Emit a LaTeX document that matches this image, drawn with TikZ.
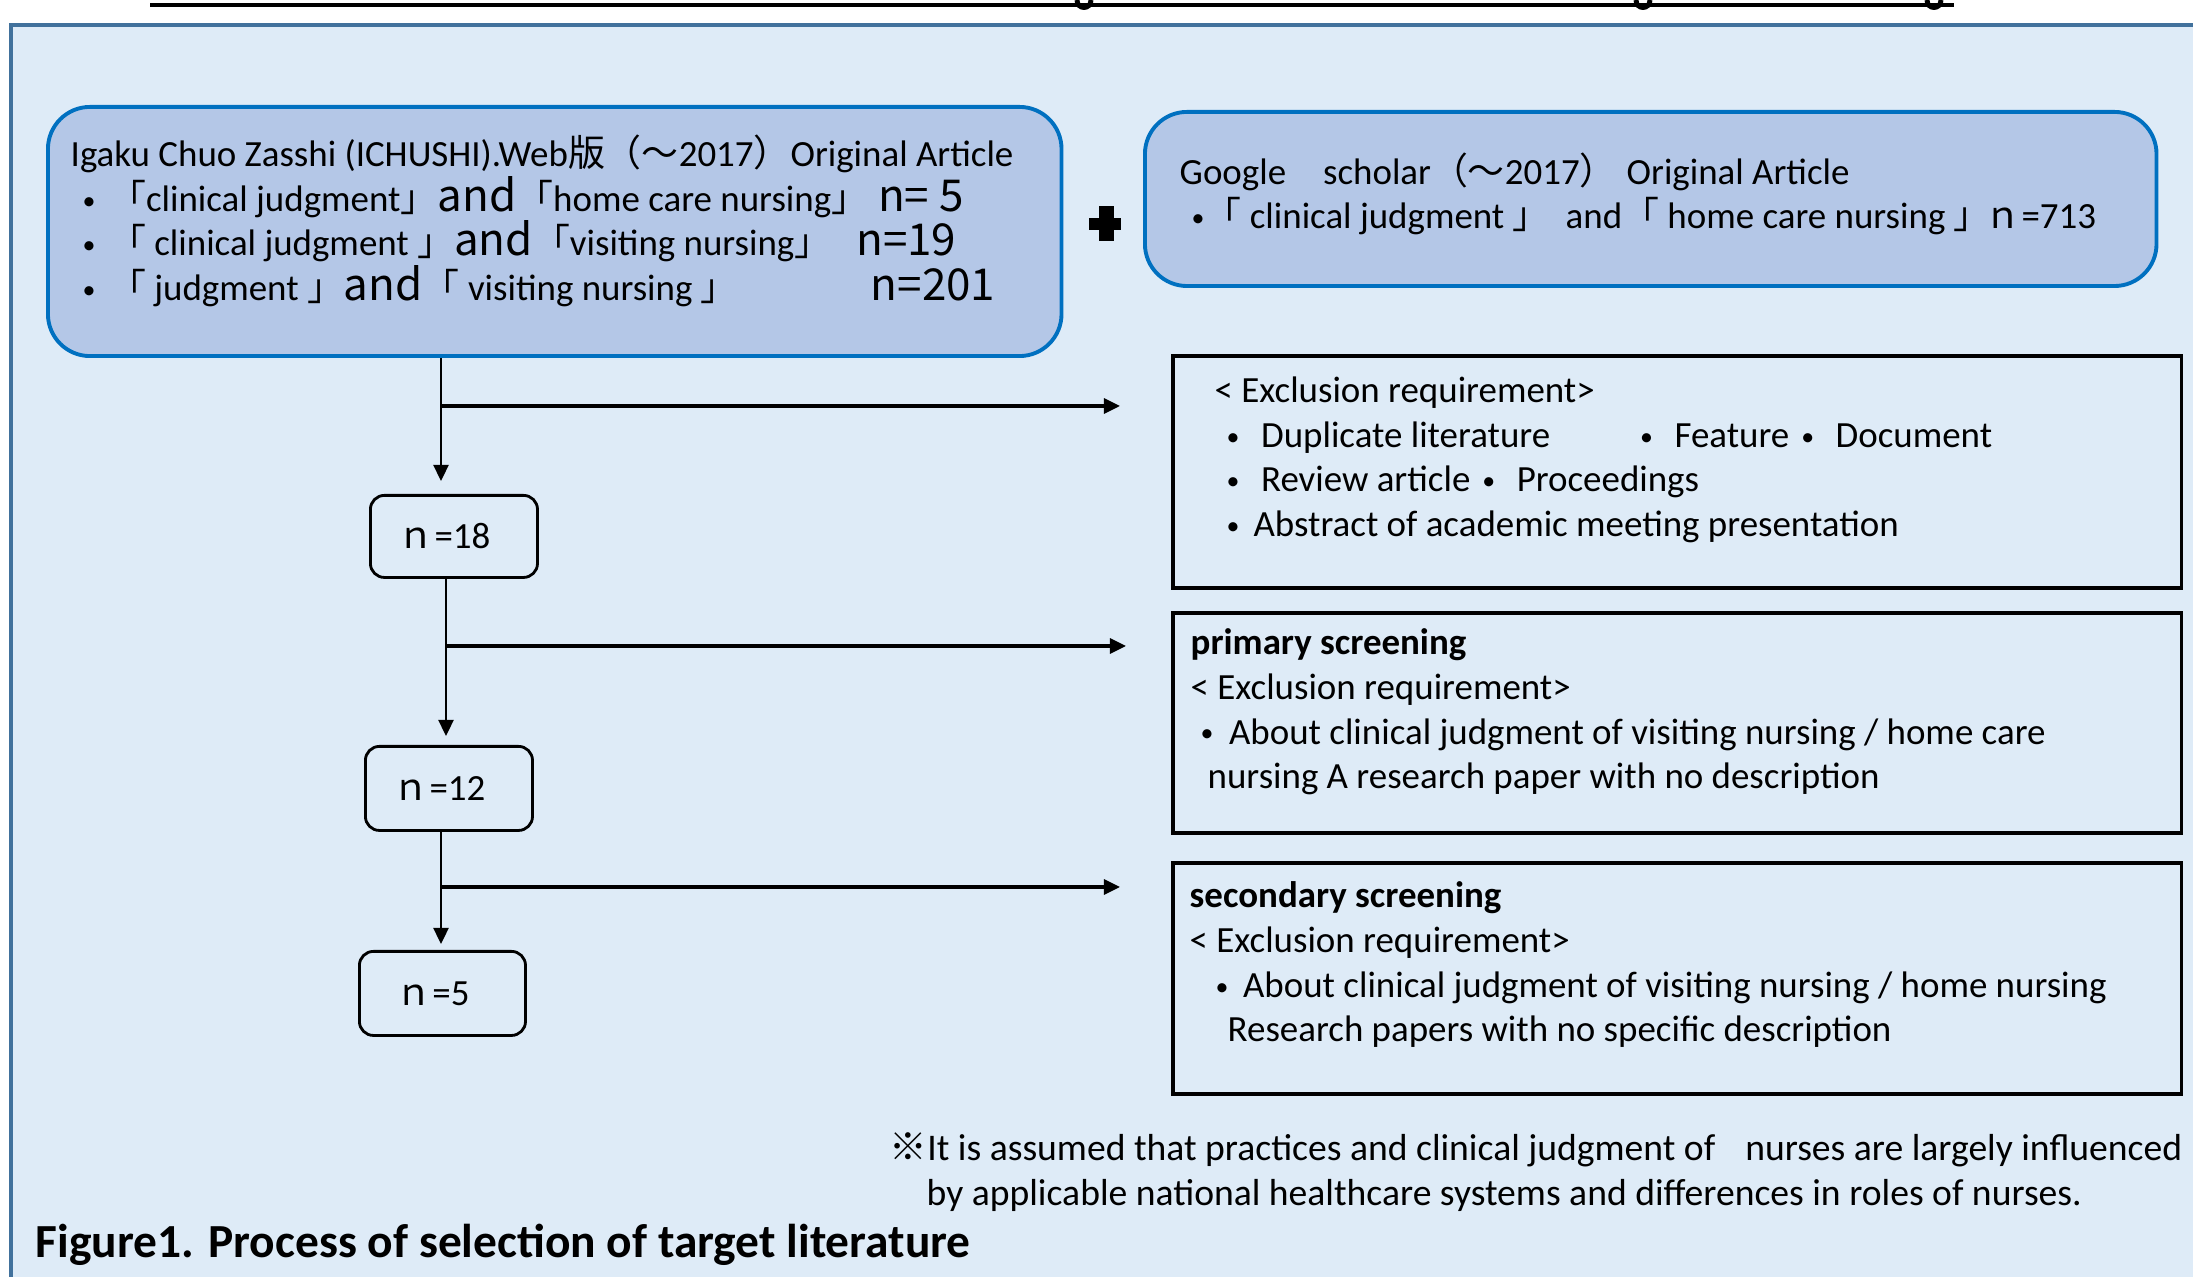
\documentclass[tikz,border=0pt]{standalone}
\usepackage{fontspec}
\setmainfont{Carlito}
\newfontfamily\jp{Noto Sans CJK JP}
\usepackage{tikz}
\usetikzlibrary{arrows.meta}
\usetikzlibrary{positioning}

\definecolor{panelfill}{HTML}{DEEBF7}
\definecolor{panelline}{HTML}{41719C}
\definecolor{srcfill}{HTML}{B4C7E7}
\definecolor{srcline}{HTML}{0070C0}

\tikzset{
    srcbox/.style={
           rectangle,
           rounded corners=0.42cm,
           draw=srcline, fill=srcfill, line width=1.1pt,
           anchor=north west,
           inner sep=0pt,
           },
    exbox/.style={
           rectangle,
           draw=black, line width=1pt,
           anchor=north west,
           inner sep=0pt,
           },
    numbox/.style={
           rectangle,
           rounded corners=0.14cm,
           draw=black, line width=0.8pt,
           anchor=north west,
           inner sep=0pt,
           },
    txt/.style={
           anchor=west,
           align=left,
           inner sep=0pt,
           },
    flow/.style={->, line width=0.7pt},
}

% Latin set in the Japanese face, a size up
\newcommand{\jl}[1]{{\jp\fontsize{12.5}{12.7}\selectfont #1}}
\newcommand{\bulsym}{\raisebox{0.06em}{\scalebox{0.7}{•}}}
\newcommand{\bul}{\bulsym\hspace{0.215cm}}
\newcommand{\cnt}[1]{{\jp ｎ}=#1\kern0.2cm}

\begin{document}
\begin{tikzpicture}[x=0.01cm,y=-0.01cm,>={Triangle[length=0.16cm,width=0.15cm]},
                    every node/.style={font=\fontsize{10.5}{12.7}\selectfont}]
  \useasboundingbox (0,0) rectangle (2193,1277);
  \clip (0,0) rectangle (2193,1277);

  % underline of the heading and the tails of its letters
  \draw[line width=1.1pt] (150,5) -- (1954,5);
  \foreach \gx in {1084,1643,1934}
    \draw[line width=1.4pt] (\gx-7,0) .. controls (\gx-7,10) and (\gx+7,10) .. (\gx+7,0);

  % background panel
  \draw[fill=panelfill, draw=panelline, line width=1.2pt] (11,25) rectangle (2260,1340);

  % databases
  \node[srcbox, minimum width=10.13cm, minimum height=2.49cm] (ichushi) at (46,105) {};
  \node[srcbox, minimum width=10.11cm, minimum height=1.74cm] (scholar) at (1143,110) {};
  \node[inner sep=0pt, minimum width=0.32cm, minimum height=0.35cm] (plus) at (1106,224) {};
  \fill (plus.north) ++(-7.5,0) rectangle ++(15,35);
  \fill (plus.west) ++(0,-6) rectangle ++(32,12);

  \node[txt] (ichushitxt) at (70,221)
    {Igaku Chuo Zasshi (ICHUSHI).Web{\jp 版（～}2017{\jp ）}Original Article\\
     \hspace*{0.12cm}\bulsym\hspace{0.135cm}{\jp 「}clinical judgment{\jp 」}\jl{and}{\jp 「}home care nursing{\jp 」}\hspace{0.1cm}\jl{n= 5}\\
     \hspace*{0.12cm}\bulsym\hspace{0.135cm}{\jp 「} clinical judgment {\jp 」}\jl{and}{\jp 「}visiting nursing{\jp 」}\hspace{0.25cm}\jl{n=19}\\
     \hspace*{0.12cm}\bulsym\hspace{0.135cm}{\jp 「} judgment {\jp 」}\jl{and}{\jp 「} visiting nursing {\jp 」}\hspace{1.33cm}\jl{n=201}};
  \node[txt] (scholartxt) at (1179,194)
    {Google{\jp 　}scholar{\jp （～}2017{\jp ）}\hspace{0.1cm}Original Article\\
     \hspace*{0.12cm}\bulsym{\jp 「} clinical judgment {\jp 」}\hspace{0.16cm}and{\jp 「} home care nursing {\jp 」}\hspace{-0.06cm}{\jp ｎ}=713};

  % exclusion steps
  \node[exbox, minimum width=10.08cm, minimum height=2.32cm] (excl) at (1171,354) {};
  \node[exbox, minimum width=10.08cm, minimum height=2.20cm] (prim) at (1171,611) {};
  \node[exbox, minimum width=10.08cm, minimum height=2.31cm] (sec)  at (1171,861) {};

  \node[txt] (excltxt) at (1214,460)
    {< Exclusion requirement>\\
     \hspace*{0.12cm}\bul Duplicate literature\hspace{0.9cm}\bul Feature\hspace{0.12cm}\bul Document\\
     \hspace*{0.12cm}\bul Review article\hspace{0.12cm}\bul Proceedings\\
     \hspace*{0.12cm}\bulsym\hspace{0.14cm}Abstract of academic meeting presentation};
  \node[txt] (primtxt) at (1190,712)
    {\textbf{primary screening}\\
     < Exclusion requirement>\\
     \hspace*{0.10cm}\bulsym\hspace{0.155cm}About clinical judgment of visiting nursing / home care\\
     \hspace*{0.17cm}nursing A research paper with no description};
  \node[txt] (sectxt) at (1189,965)
    {\textbf{secondary screening}\\
     < Exclusion requirement>\\
     \hspace*{0.26cm}\bulsym\hspace{0.145cm}About clinical judgment of visiting nursing / home nursing\\
     \hspace*{0.38cm}Research papers with no specific description};

  % remaining counts
  \node[numbox, minimum width=1.67cm, minimum height=0.82cm] (n18) at (369,494) {\cnt{18}};
  \node[numbox, minimum width=1.67cm, minimum height=0.84cm] (n12) at (364,745) {\cnt{12}};
  \node[numbox, minimum width=1.66cm, minimum height=0.84cm] (n5)  at (358,950) {\cnt{5}};

  \coordinate (h1) at (441,406);
  \coordinate (h2) at (446,646);
  \coordinate (h3) at (441,887);

  \draw[flow, shorten >=0.13cm] (ichushi.south -| h1) -- (n18.north -| h1);
  \draw[flow, shorten >=0.09cm] (n18.south -| h2) -- (n12.north -| h2);
  \draw[flow, shorten >=0.06cm] (n12.south -| h3) -- (n5.north -| h3);
  \draw[flow, line width=0.9pt, shorten >=0.51cm] (h1) -- (h1 -| excl.west);
  \draw[flow, line width=0.9pt, shorten >=0.45cm] (h2) -- (h2 -| prim.west);
  \draw[flow, line width=0.9pt, shorten >=0.51cm] (h3) -- (h3 -| sec.west);

  % note and caption
  \node[txt, font=\fontsize{10.7}{12.7}\selectfont] (note) at (889,1172)
    {{\jp ※}It is assumed that practices and clinical judgment of\hspace{0.3cm}nurses are largely influenced\\
     \hspace*{0.37cm}by applicable national healthcare systems and differences in roles of nurses.};
  \node[txt, font=\fontsize{13.5}{16}\selectfont\bfseries] (caption) at (35,1245)
    {Figure1. Process of selection of target literature};
\end{tikzpicture}
\end{document}
